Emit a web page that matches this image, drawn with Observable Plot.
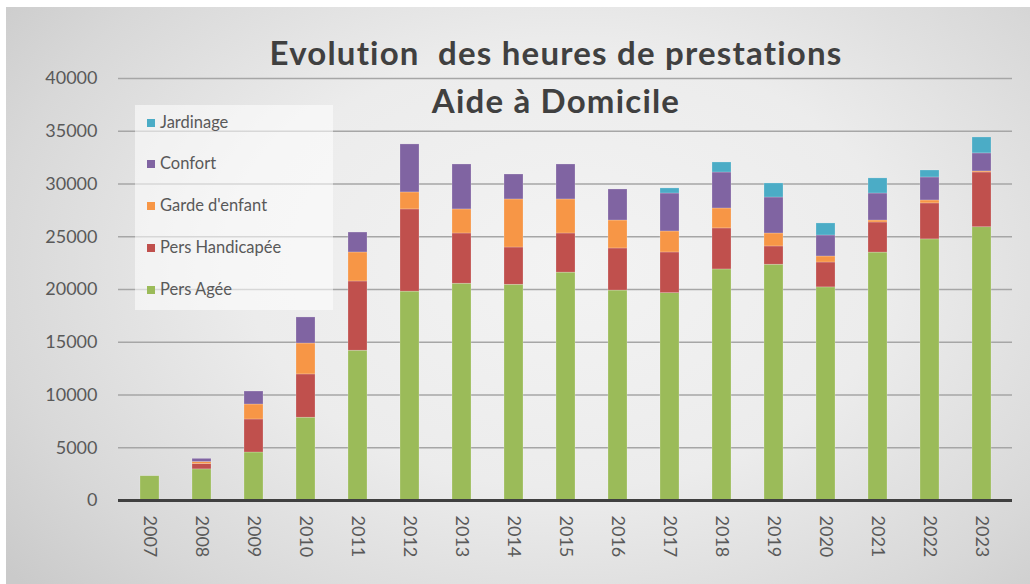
<!DOCTYPE html>
<html>
<head>
<meta charset="utf-8">
<script src="https://cdn.jsdelivr.net/npm/d3@7"></script>
<script src="https://cdn.jsdelivr.net/npm/@observablehq/plot@0.6"></script>
<style>
  html, body { margin: 0; padding: 0; background: #ffffff; }
  #wrap {
    position: relative; width: 1030px; height: 584px; overflow: hidden;
    background: #ffffff;
  }
  #panel {
    position: absolute; left: 6px; top: 7px; width: 1024px; height: 577px;
    background: radial-gradient(ellipse 70% 85% at 55% 45%, #f3f3f3 0%, #ececec 45%, #d8d8d8 80%, #cacaca 100%);
  }
  #chart { position: absolute; left: 0; top: 0; }
  .title {
    position: absolute; left: 0; width: 1112px; text-align: center;
    font-family: Lato, "DejaVu Sans", sans-serif; font-weight: 700;
    color: #404040; font-size: 33px; line-height: 33px; letter-spacing: 1.2px; white-space: pre;
  }
  #legend {
    position: absolute; left: 135px; top: 105px; width: 198px; height: 205px;
    background: rgba(255,255,255,0.55);
    font-family: Lato, "Open Sans", sans-serif; font-size: 16.5px; color: #595959;
  }
  .item { position: absolute; left: 12px; height: 20px; line-height: 20px; white-space: nowrap; }
  .sw { display: inline-block; width: 8px; height: 8px; margin-right: 5px; vertical-align: 1px; }
</style>
</head>
<body>
<div id="wrap">
  <div id="panel"></div>
  <div id="chart"></div>
  <div class="title" style="top:36px">Evolution  des heures de prestations</div>
  <div class="title" style="top:84px">Aide à Domicile</div>
  <div id="legend"></div>
</div>
<script>
const years = ["2007","2008","2009","2010","2011","2012","2013","2014","2015","2016","2017","2018","2019","2020","2021","2022","2023"];
const seriesNames = ["Pers Agée", "Pers Handicapée", "Garde d'enfant", "Confort", "Jardinage"];
const seriesColors = ["#9bbb59", "#c0504d", "#f79646", "#8064a2", "#4bacc6"];
const persAgee       = [2300, 2950, 4550, 7850, 14200, 19800, 20550, 20450, 21600, 19900, 19650, 21900, 22350, 20200, 23500, 24750, 25900];
const persHandicapee = [0, 500, 3130, 4100, 6560, 7790, 4760, 3530, 3710, 3990, 3860, 3890, 1730, 2360, 2850, 3410, 5190];
const gardeEnfant    = [0, 200, 1420, 2930, 2750, 1610, 2280, 4555, 3225, 2650, 1990, 1890, 1230, 570, 190, 280, 100];
const confort        = [0, 300, 1230, 2470, 1890, 4550, 4260, 2365, 3315, 2940, 3600, 3410, 3410, 1990, 2560, 2180, 1710];
const jardinage      = [0, 0, 0, 0, 0, 0, 0, 0, 0, 0, 480, 950, 1330, 1140, 1430, 660, 1510];
const yTicks = [0, 5000, 10000, 15000, 20000, 25000, 30000, 35000, 40000];

const seriesValues = [persAgee, persHandicapee, gardeEnfant, confort, jardinage];
const rows = [];
seriesNames.forEach((s, si) => {
  years.forEach((y, i) => rows.push({year: y, series: s, value: seriesValues[si][i]}));
});

const chart = Plot.plot({
  width: 1030,
  height: 584,
  marginLeft: 118,
  marginRight: 18,
  marginTop: 78,
  marginBottom: 84,
  style: { background: "transparent", fontFamily: "Lato, 'Open Sans', sans-serif" },
  x: { domain: years, paddingInner: 0.64, paddingOuter: 0.33, label: null },
  y: { domain: [0, 40000], label: null },
  color: { domain: seriesNames, range: seriesColors },
  marks: [
    Plot.ruleY(yTicks.slice(1), { stroke: "#a6a6a6", strokeWidth: 1.5 }),
    Plot.barY(rows, {
      x: "year", y: "value", fill: "series",
      order: seriesNames, stroke: "#ffffff", strokeOpacity: 0.35, strokeWidth: 0.6
    }),
    Plot.ruleY([0], { stroke: "#404040", strokeWidth: 3 }),
    Plot.axisY({ ticks: yTicks, tickSize: 0, tickPadding: 21, tickFormat: d3.format("d"), fontSize: 18, fill: "#595959" }),
    Plot.axisX({ tickSize: 0, tickPadding: 15, tickRotate: 90, fontSize: 18, fill: "#595959" })
  ]
});
document.getElementById("chart").appendChild(chart);

const legend = document.getElementById("legend");
const legendOrder = [4, 3, 2, 1, 0];
const legendTops = [7, 48, 90, 132, 174];
legendOrder.forEach((si, k) => {
  const d = document.createElement("div");
  d.className = "item";
  d.style.top = legendTops[k] + "px";
  d.innerHTML = `<span class="sw" style="background:${seriesColors[si]}"></span>${seriesNames[si]}`;
  legend.appendChild(d);
});
</script>
</body>
</html>
